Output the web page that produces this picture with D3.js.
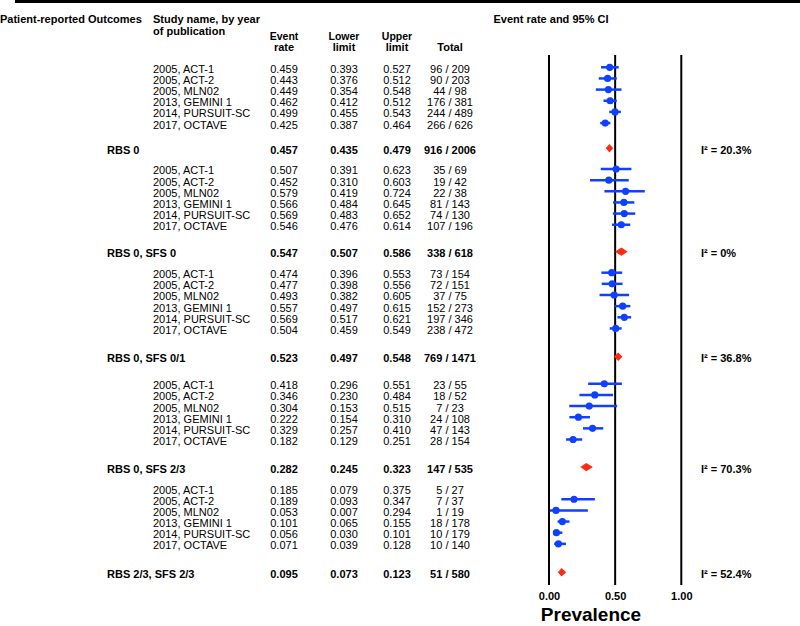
<!DOCTYPE html>
<html>
<head>
<meta charset="utf-8">
<script src="https://cdn.jsdelivr.net/npm/d3@7"></script>
<style>
	body { margin: 0; background: #fff; }
	svg { display: block; font-family: "Liberation Sans", Arial, sans-serif; }
	text { fill: #000; }
	.bold { font-weight: bold; }
</style>
</head>
<body>
<svg id="chart" width="800" height="626"></svg>
<script>

// studies, repeated in each outcome group
var studies = ['2005, ACT-1', '2005, ACT-2', '2005, MLN02', '2013, GEMINI 1', '2014, PURSUIT-SC', '2017, OCTAVE'];

var outcomes = ['RBS 0', 'RBS 0, SFS 0', 'RBS 0, SFS 0/1', 'RBS 0, SFS 2/3', 'RBS 2/3, SFS 2/3'];

var eventRate = [
	[0.459, 0.443, 0.449, 0.462, 0.499, 0.425],
	[0.507, 0.452, 0.579, 0.566, 0.569, 0.546],
	[0.474, 0.477, 0.493, 0.557, 0.569, 0.504],
	[0.418, 0.346, 0.304, 0.222, 0.329, 0.182],
	[0.185, 0.189, 0.053, 0.101, 0.056, 0.071]
];
var lowerLimit = [
	[0.393, 0.376, 0.354, 0.412, 0.455, 0.387],
	[0.391, 0.310, 0.419, 0.484, 0.483, 0.476],
	[0.396, 0.398, 0.382, 0.497, 0.517, 0.459],
	[0.296, 0.230, 0.153, 0.154, 0.257, 0.129],
	[0.079, 0.093, 0.007, 0.065, 0.030, 0.039]
];
var upperLimit = [
	[0.527, 0.512, 0.548, 0.512, 0.543, 0.464],
	[0.623, 0.603, 0.724, 0.645, 0.652, 0.614],
	[0.553, 0.556, 0.605, 0.615, 0.621, 0.549],
	[0.551, 0.484, 0.515, 0.310, 0.410, 0.251],
	[0.375, 0.347, 0.294, 0.155, 0.101, 0.128]
];
var totals = [
	['96 / 209', '90 / 203', '44 / 98', '176 / 381', '244 / 489', '266 / 626'],
	['35 / 69', '19 / 42', '22 / 38', '81 / 143', '74 / 130', '107 / 196'],
	['73 / 154', '72 / 151', '37 / 75', '152 / 273', '197 / 346', '238 / 472'],
	['23 / 55', '18 / 52', '7 / 23', '24 / 108', '47 / 143', '28 / 154'],
	['5 / 27', '7 / 37', '1 / 19', '18 / 178', '10 / 179', '10 / 140']
];

// pooled estimates per outcome
var pooledRate = [0.457, 0.547, 0.523, 0.282, 0.095];
var pooledLower = [0.435, 0.507, 0.497, 0.245, 0.073];
var pooledUpper = [0.479, 0.586, 0.548, 0.323, 0.123];
var pooledTotal = ['916 / 2006', '338 / 618', '769 / 1471', '147 / 535', '51 / 580'];
var iSquared = ['20.3%', '0%', '36.8%', '70.3%', '52.4%'];

// the reference shows no marker for this row
var notPlotted = ['RBS 2/3, SFS 2/3|2005, ACT-1'];

var tickValues = [0, 0.5, 1];

// layout (row units)
var gapBeforeSummary = [2.26, 2.42, 2.54, 2.47, 2.55];
var gapAfterSummary = [1.86, 1.88, 2.42, 1.89];

var svg = d3.select('#chart');
var blue = '#1040ff', red = '#ff2a12';

var rows = [], summaries = [];
var u = 0;
outcomes.forEach(function(o, g){
	studies.forEach(function(s, i){
		rows.push({outcome: o, study: s, u: u + i, rate: eventRate[g][i], lo: lowerLimit[g][i], hi: upperLimit[g][i], total: totals[g][i]});
	});
	var su = u + studies.length - 1 + gapBeforeSummary[g];
	summaries.push({outcome: o, u: su, rate: pooledRate[g], lo: pooledLower[g], hi: pooledUpper[g], total: pooledTotal[g], i2: iSquared[g]});
	u = su + (gapAfterSummary[g] || 0);
});

var y = d3.scaleLinear().domain([0, summaries[summaries.length - 1].u]).range([67.3, 572.3]);
var x = d3.scaleLinear().domain([0, 1]).range([549, 681.3]);

var col = {name: 153, label: 107, rate: 284, lower: 344, upper: 397, total: 450, i2: 701};
var fmt = d3.format('.3f');

// top rule
svg.append('rect').attr('x', 15).attr('y', 0).attr('width', 785).attr('height', 3).attr('fill', '#000');

// headers
var head = svg.append('g').attr('class', 'bold').style('font-size', '11px');
head.append('text').attr('x', 0).attr('y', 23).text('Patient-reported Outcomes');
head.append('text').attr('x', col.name).attr('y', 23).text('Study name, by year');
head.append('text').attr('x', col.name).attr('y', 35).text('of publication');
[['Event', 'rate', col.rate], ['Lower', 'limit', col.lower], ['Upper', 'limit', col.upper], ['', 'Total', col.total]]
	.forEach(function(h){
		head.append('text').attr('x', h[2]).attr('y', 39.5).attr('text-anchor', 'middle').style('font-size', '10.5px').text(h[0]);
		head.append('text').attr('x', h[2]).attr('y', 50.5).attr('text-anchor', 'middle').text(h[1]);
	});
head.append('text').attr('x', 551).attr('y', 23).attr('text-anchor', 'middle').text('Event rate and 95% CI');

// study rows text
var rowText = svg.append('g').style('font-size', '11px')
	.selectAll('g').data(rows).enter().append('g')
	.attr('transform', function(d){ return 'translate(0,' + (y(d.u) + 5.5) + ')'; });
rowText.append('text').attr('x', col.name).text(function(d){ return d.study; });
rowText.append('text').attr('x', col.rate).attr('text-anchor', 'middle').text(function(d){ return fmt(d.rate); });
rowText.append('text').attr('x', col.lower).attr('text-anchor', 'middle').text(function(d){ return fmt(d.lo); });
rowText.append('text').attr('x', col.upper).attr('text-anchor', 'middle').text(function(d){ return fmt(d.hi); });
rowText.append('text').attr('x', col.total).attr('text-anchor', 'middle').text(function(d){ return d.total; });

// summary rows text
var sumText = svg.append('g').attr('class', 'bold').style('font-size', '11px')
	.selectAll('g').data(summaries).enter().append('g')
	.attr('transform', function(d){ return 'translate(0,' + (y(d.u) + 5.5) + ')'; });
sumText.append('text').attr('x', col.label).text(function(d){ return d.outcome; });
sumText.append('text').attr('x', col.rate).attr('text-anchor', 'middle').text(function(d){ return fmt(d.rate); });
sumText.append('text').attr('x', col.lower).attr('text-anchor', 'middle').text(function(d){ return fmt(d.lo); });
sumText.append('text').attr('x', col.upper).attr('text-anchor', 'middle').text(function(d){ return fmt(d.hi); });
sumText.append('text').attr('x', col.total).attr('text-anchor', 'middle').text(function(d){ return d.total; });
sumText.append('text').attr('x', col.i2).text(function(d){ return 'I\u00b2 = ' + d.i2; });

// reference lines
svg.append('g').selectAll('line').data(tickValues).enter().append('line')
	.attr('x1', d=>x(d)).attr('x2', d=>x(d))
	.attr('y1', 55).attr('y2', 585)
	.attr('stroke', '#000').attr('stroke-width', 2);

// axis labels
var axis = svg.append('g').attr('transform', 'translate(0,589)')
	.call(d3.axisBottom(x).tickValues(tickValues).tickFormat(d3.format('.2f')).tickSize(0));
axis.select('.domain').remove();
axis.selectAll('text').attr('class', 'bold').style('font-size', '11px')
	.style('font-family', '"Liberation Sans", Arial, sans-serif').attr('fill', '#000');

svg.append('text').attr('class', 'bold').attr('x', 591).attr('y', 621)
	.attr('text-anchor', 'middle').style('font-size', '19px').text('Prevalence');

// study markers
var marks = svg.append('g').selectAll('g')
	.data(rows.filter(d => notPlotted.indexOf(d.outcome + '|' + d.study) < 0))
	.enter().append('g');
marks.append('line')
	.attr('x1', d=>x(d.lo)).attr('x2', d=>x(d.hi))
	.attr('y1', d=>y(d.u)).attr('y2', d=>y(d.u))
	.attr('stroke', blue).attr('stroke-width', 2.5);
marks.append('circle')
	.attr('cx', d=>x(d.rate)).attr('cy', d=>y(d.u)).attr('r', 3.6)
	.attr('fill', blue);

// pooled diamonds
svg.append('g').selectAll('path').data(summaries).enter().append('path')
	.attr('d', function(d){
		var cy = y(d.u), h = 3.4;
		return 'M' + x(d.lo) + ',' + cy + 'L' + x(d.rate) + ',' + (cy - h) +
			'L' + x(d.hi) + ',' + cy + 'L' + x(d.rate) + ',' + (cy + h) + 'Z';
	})
	.attr('fill', red).attr('stroke', red).attr('stroke-width', 1.2);

</script>
</body>
</html>
